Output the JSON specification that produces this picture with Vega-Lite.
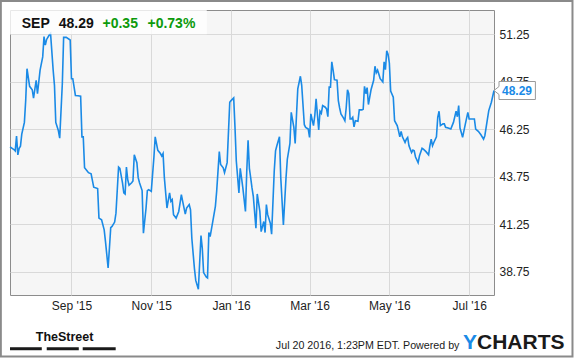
{
  "$schema": "https://vega.github.io/schema/vega-lite/v6.json",
  "width": 484,
  "height": 285,
  "autosize": {"type": "none"},
  "padding": {"left": 10, "top": 10, "right": 81, "bottom": 63},
  "background": "#ffffff",
  "config": {
    "font": "Liberation Sans",
    "view": {"fill": "#f6f6f6", "stroke": "#8c8c8c", "strokeWidth": 1}
  },
  "datasets": {
    "prices": [
      {"date": "2015-07-16", "price": 45.32}, {"date": "2015-07-19", "price": 45.18}, {"date": "2015-07-20", "price": 45.11},
      {"date": "2015-07-21", "price": 45.89}, {"date": "2015-07-22", "price": 44.90}, {"date": "2015-07-23", "price": 45.25},
      {"date": "2015-07-24", "price": 45.36}, {"date": "2015-07-25", "price": 45.99}, {"date": "2015-07-27", "price": 46.61},
      {"date": "2015-07-28", "price": 47.76}, {"date": "2015-07-29", "price": 49.44}, {"date": "2015-07-31", "price": 48.51},
      {"date": "2015-08-02", "price": 48.33}, {"date": "2015-08-03", "price": 47.89}, {"date": "2015-08-05", "price": 48.83},
      {"date": "2015-08-06", "price": 48.12}, {"date": "2015-08-08", "price": 49.36}, {"date": "2015-08-10", "price": 50.06},
      {"date": "2015-08-11", "price": 51.13}, {"date": "2015-08-12", "price": 50.68}, {"date": "2015-08-13", "price": 50.98},
      {"date": "2015-08-15", "price": 51.21}, {"date": "2015-08-16", "price": 51.30}, {"date": "2015-08-18", "price": 49.36},
      {"date": "2015-08-19", "price": 48.56}, {"date": "2015-08-20", "price": 46.61}, {"date": "2015-08-22", "price": 46.17},
      {"date": "2015-08-23", "price": 45.78}, {"date": "2015-08-25", "price": 48.65}, {"date": "2015-08-26", "price": 51.09},
      {"date": "2015-08-28", "price": 51.09}, {"date": "2015-08-31", "price": 50.95}, {"date": "2015-09-01", "price": 48.91},
      {"date": "2015-09-02", "price": 48.91}, {"date": "2015-09-04", "price": 48.03}, {"date": "2015-09-06", "price": 48.01},
      {"date": "2015-09-08", "price": 47.99}, {"date": "2015-09-09", "price": 45.85}, {"date": "2015-09-10", "price": 45.85},
      {"date": "2015-09-11", "price": 44.22}, {"date": "2015-09-13", "price": 44.05}, {"date": "2015-09-14", "price": 43.96},
      {"date": "2015-09-16", "price": 43.90}, {"date": "2015-09-18", "price": 43.20}, {"date": "2015-09-21", "price": 43.13},
      {"date": "2015-09-22", "price": 41.57}, {"date": "2015-09-24", "price": 41.48}, {"date": "2015-09-26", "price": 40.95},
      {"date": "2015-09-27", "price": 40.33}, {"date": "2015-09-29", "price": 38.95}, {"date": "2015-09-30", "price": 39.98},
      {"date": "2015-10-01", "price": 41.07}, {"date": "2015-10-02", "price": 41.13}, {"date": "2015-10-04", "price": 41.36},
      {"date": "2015-10-05", "price": 41.83}, {"date": "2015-10-07", "price": 44.26}, {"date": "2015-10-08", "price": 44.19},
      {"date": "2015-10-10", "price": 43.43}, {"date": "2015-10-11", "price": 42.90}, {"date": "2015-10-12", "price": 42.84},
      {"date": "2015-10-13", "price": 44.26}, {"date": "2015-10-14", "price": 43.60}, {"date": "2015-10-15", "price": 43.30},
      {"date": "2015-10-17", "price": 43.43}, {"date": "2015-10-18", "price": 43.52}, {"date": "2015-10-19", "price": 44.90},
      {"date": "2015-10-21", "price": 44.49}, {"date": "2015-10-22", "price": 43.70}, {"date": "2015-10-23", "price": 43.43},
      {"date": "2015-10-25", "price": 43.02}, {"date": "2015-10-26", "price": 40.77}, {"date": "2015-10-28", "price": 42.10},
      {"date": "2015-10-29", "price": 43.02}, {"date": "2015-10-30", "price": 43.07}, {"date": "2015-11-01", "price": 42.98},
      {"date": "2015-11-03", "price": 44.76}, {"date": "2015-11-04", "price": 45.85}, {"date": "2015-11-06", "price": 45.14},
      {"date": "2015-11-08", "price": 44.97}, {"date": "2015-11-09", "price": 44.84}, {"date": "2015-11-10", "price": 44.97},
      {"date": "2015-11-11", "price": 43.70}, {"date": "2015-11-13", "price": 42.10}, {"date": "2015-11-14", "price": 42.50},
      {"date": "2015-11-15", "price": 42.90}, {"date": "2015-11-16", "price": 42.45}, {"date": "2015-11-17", "price": 42.54},
      {"date": "2015-11-18", "price": 41.75}, {"date": "2015-11-20", "price": 41.57}, {"date": "2015-11-22", "price": 41.92},
      {"date": "2015-11-24", "price": 42.81}, {"date": "2015-11-25", "price": 42.45}, {"date": "2015-11-27", "price": 41.78},
      {"date": "2015-11-28", "price": 42.10}, {"date": "2015-11-30", "price": 42.28}, {"date": "2015-12-01", "price": 42.01},
      {"date": "2015-12-02", "price": 40.51}, {"date": "2015-12-04", "price": 38.91}, {"date": "2015-12-05", "price": 38.29},
      {"date": "2015-12-07", "price": 37.82}, {"date": "2015-12-09", "price": 40.65}, {"date": "2015-12-10", "price": 39.98},
      {"date": "2015-12-11", "price": 38.70}, {"date": "2015-12-13", "price": 38.47}, {"date": "2015-12-14", "price": 38.42},
      {"date": "2015-12-15", "price": 40.81}, {"date": "2015-12-16", "price": 40.60}, {"date": "2015-12-18", "price": 41.39},
      {"date": "2015-12-20", "price": 42.19}, {"date": "2015-12-21", "price": 42.99}, {"date": "2015-12-23", "price": 45.07},
      {"date": "2015-12-24", "price": 44.40}, {"date": "2015-12-26", "price": 44.22}, {"date": "2015-12-27", "price": 43.96},
      {"date": "2015-12-29", "price": 44.49}, {"date": "2015-12-31", "price": 47.67}, {"date": "2016-01-01", "price": 47.76},
      {"date": "2016-01-03", "price": 47.90}, {"date": "2016-01-04", "price": 46.35}, {"date": "2016-01-05", "price": 44.58},
      {"date": "2016-01-07", "price": 42.90}, {"date": "2016-01-08", "price": 44.19}, {"date": "2016-01-09", "price": 43.69},
      {"date": "2016-01-10", "price": 43.16}, {"date": "2016-01-12", "price": 41.92}, {"date": "2016-01-13", "price": 44.05},
      {"date": "2016-01-14", "price": 45.67}, {"date": "2016-01-15", "price": 44.19}, {"date": "2016-01-16", "price": 43.69},
      {"date": "2016-01-17", "price": 43.16}, {"date": "2016-01-18", "price": 42.72}, {"date": "2016-01-20", "price": 41.04},
      {"date": "2016-01-21", "price": 42.84}, {"date": "2016-01-23", "price": 41.92}, {"date": "2016-01-24", "price": 40.86},
      {"date": "2016-01-26", "price": 41.39}, {"date": "2016-01-27", "price": 40.81}, {"date": "2016-01-28", "price": 42.28},
      {"date": "2016-01-29", "price": 41.75}, {"date": "2016-01-31", "price": 41.30}, {"date": "2016-02-01", "price": 40.72},
      {"date": "2016-02-03", "price": 44.05}, {"date": "2016-02-04", "price": 45.11}, {"date": "2016-02-05", "price": 45.38},
      {"date": "2016-02-07", "price": 45.85}, {"date": "2016-02-08", "price": 43.69}, {"date": "2016-02-10", "price": 41.21},
      {"date": "2016-02-12", "price": 43.69}, {"date": "2016-02-13", "price": 44.67}, {"date": "2016-02-15", "price": 45.50},
      {"date": "2016-02-16", "price": 47.14}, {"date": "2016-02-18", "price": 46.35}, {"date": "2016-02-19", "price": 45.50},
      {"date": "2016-02-20", "price": 46.97}, {"date": "2016-02-21", "price": 48.38}, {"date": "2016-02-23", "price": 49.04},
      {"date": "2016-02-24", "price": 48.56}, {"date": "2016-02-26", "price": 46.49}, {"date": "2016-02-27", "price": 46.35},
      {"date": "2016-02-29", "price": 46.26}, {"date": "2016-03-01", "price": 45.82}, {"date": "2016-03-02", "price": 47.06},
      {"date": "2016-03-04", "price": 46.44}, {"date": "2016-03-05", "price": 46.97}, {"date": "2016-03-06", "price": 47.85},
      {"date": "2016-03-08", "price": 46.21}, {"date": "2016-03-09", "price": 47.20}, {"date": "2016-03-10", "price": 47.09},
      {"date": "2016-03-11", "price": 47.50}, {"date": "2016-03-13", "price": 47.41}, {"date": "2016-03-14", "price": 47.32},
      {"date": "2016-03-15", "price": 46.91}, {"date": "2016-03-16", "price": 48.47}, {"date": "2016-03-17", "price": 48.47},
      {"date": "2016-03-18", "price": 49.80}, {"date": "2016-03-19", "price": 49.36}, {"date": "2016-03-20", "price": 48.86},
      {"date": "2016-03-22", "price": 48.83}, {"date": "2016-03-23", "price": 47.76}, {"date": "2016-03-24", "price": 47.37},
      {"date": "2016-03-25", "price": 47.06}, {"date": "2016-03-27", "price": 46.84}, {"date": "2016-03-28", "price": 46.70},
      {"date": "2016-03-29", "price": 47.37}, {"date": "2016-03-30", "price": 48.33}, {"date": "2016-03-31", "price": 48.12},
      {"date": "2016-04-01", "price": 46.79}, {"date": "2016-04-02", "price": 46.79}, {"date": "2016-04-03", "price": 46.88},
      {"date": "2016-04-04", "price": 46.38}, {"date": "2016-04-05", "price": 46.70}, {"date": "2016-04-07", "price": 46.67},
      {"date": "2016-04-08", "price": 47.27}, {"date": "2016-04-10", "price": 47.27}, {"date": "2016-04-11", "price": 47.30},
      {"date": "2016-04-12", "price": 48.51}, {"date": "2016-04-13", "price": 48.12}, {"date": "2016-04-14", "price": 48.44},
      {"date": "2016-04-15", "price": 47.55}, {"date": "2016-04-16", "price": 47.94}, {"date": "2016-04-17", "price": 48.33},
      {"date": "2016-04-19", "price": 48.83}, {"date": "2016-04-20", "price": 49.57}, {"date": "2016-04-21", "price": 49.22},
      {"date": "2016-04-22", "price": 49.36}, {"date": "2016-04-23", "price": 49.15}, {"date": "2016-04-24", "price": 48.91},
      {"date": "2016-04-26", "price": 48.74}, {"date": "2016-04-27", "price": 49.80}, {"date": "2016-04-28", "price": 49.39},
      {"date": "2016-04-29", "price": 50.38}, {"date": "2016-04-30", "price": 50.20}, {"date": "2016-05-01", "price": 49.74},
      {"date": "2016-05-02", "price": 48.26}, {"date": "2016-05-04", "price": 47.94}, {"date": "2016-05-05", "price": 46.70},
      {"date": "2016-05-07", "price": 46.44}, {"date": "2016-05-08", "price": 46.17}, {"date": "2016-05-09", "price": 45.85},
      {"date": "2016-05-10", "price": 46.14}, {"date": "2016-05-11", "price": 45.85}, {"date": "2016-05-13", "price": 45.55},
      {"date": "2016-05-14", "price": 45.73}, {"date": "2016-05-15", "price": 45.82}, {"date": "2016-05-16", "price": 45.38},
      {"date": "2016-05-18", "price": 45.02}, {"date": "2016-05-19", "price": 45.15}, {"date": "2016-05-20", "price": 45.11},
      {"date": "2016-05-21", "price": 44.79}, {"date": "2016-05-23", "price": 44.49}, {"date": "2016-05-24", "price": 44.84},
      {"date": "2016-05-26", "price": 45.25}, {"date": "2016-05-27", "price": 45.20}, {"date": "2016-05-29", "price": 45.07},
      {"date": "2016-05-31", "price": 44.90}, {"date": "2016-06-01", "price": 45.38}, {"date": "2016-06-02", "price": 45.73},
      {"date": "2016-06-03", "price": 45.38}, {"date": "2016-06-04", "price": 45.55}, {"date": "2016-06-06", "price": 45.85},
      {"date": "2016-06-07", "price": 46.88}, {"date": "2016-06-08", "price": 47.20}, {"date": "2016-06-09", "price": 46.44},
      {"date": "2016-06-11", "price": 46.53}, {"date": "2016-06-12", "price": 46.53}, {"date": "2016-06-13", "price": 46.35},
      {"date": "2016-06-15", "price": 46.31}, {"date": "2016-06-17", "price": 46.26}, {"date": "2016-06-18", "price": 46.44},
      {"date": "2016-06-19", "price": 46.61}, {"date": "2016-06-21", "price": 47.20}, {"date": "2016-06-22", "price": 46.91},
      {"date": "2016-06-23", "price": 47.50}, {"date": "2016-06-24", "price": 46.31}, {"date": "2016-06-25", "price": 46.08},
      {"date": "2016-06-26", "price": 45.82}, {"date": "2016-06-28", "price": 46.49}, {"date": "2016-06-30", "price": 47.14},
      {"date": "2016-07-01", "price": 46.79}, {"date": "2016-07-03", "price": 46.79}, {"date": "2016-07-05", "price": 46.79},
      {"date": "2016-07-06", "price": 46.26}, {"date": "2016-07-08", "price": 46.14}, {"date": "2016-07-10", "price": 45.96},
      {"date": "2016-07-12", "price": 45.73}, {"date": "2016-07-13", "price": 45.91}, {"date": "2016-07-15", "price": 46.79},
      {"date": "2016-07-16", "price": 47.23}, {"date": "2016-07-18", "price": 47.67}, {"date": "2016-07-20", "price": 48.29}
    ]
  },
  "layer": [
    {
      "data": {"values": [{}]},
      "mark": {"type": "rect", "fill": "none", "stroke": "#8a8a8a", "strokeWidth": 2, "clip": false},
      "encoding": {
        "x": {"datum": {"year": 2015, "month": 7, "date": 9, "utc": true}, "type": "temporal"},
        "x2": {"datum": {"year": 2016, "month": 9, "date": 18, "utc": true}},
        "y": {"datum": 53.01, "type": "quantitative"},
        "y2": {"datum": 34.28}
      }
    },
    {
      "data": {"name": "prices"},
      "mark": {"type": "line", "color": "#1a8ae6", "strokeWidth": 1.6, "interpolate": "linear"},
      "encoding": {
        "x": {
          "field": "date", "type": "temporal",
          "scale": {"type": "utc", "nice": false, "domain": [{"year": 2015, "month": 7, "date": 16, "utc": true}, {"year": 2016, "month": 7, "date": 20, "utc": true}]},
          "axis": {
            "title": null, "format": "%b '%y", "domain": false, "ticks": false,
            "values": [
              {"year": 2015, "month": 9, "date": 1, "utc": true}, {"year": 2015, "month": 11, "date": 1, "utc": true},
              {"year": 2016, "month": 1, "date": 1, "utc": true}, {"year": 2016, "month": 3, "date": 1, "utc": true},
              {"year": 2016, "month": 5, "date": 1, "utc": true}, {"year": 2016, "month": 7, "date": 1, "utc": true}
            ],
            "grid": true, "gridColor": "#d9d9d9", "gridWidth": 1,
            "labelFontSize": 12, "labelColor": "#222222", "labelPadding": 5, "labelFont": "Liberation Sans"
          }
        },
        "y": {
          "field": "price", "type": "quantitative",
          "scale": {"domain": [37.52, 52.53], "nice": false, "zero": false},
          "axis": {
            "title": null, "orient": "right", "format": ".2f", "domain": false, "ticks": false,
            "values": [38.75, 41.25, 43.75, 46.25, 48.75, 51.25],
            "grid": true, "gridColor": "#d9d9d9", "gridWidth": 1,
            "labelFontSize": 12, "labelColor": "#222222", "labelPadding": 5, "labelFont": "Liberation Sans"
          }
        }
      }
    },
    {
      "data": {"values": [{}]},
      "mark": {"type": "rect", "fill": "#ffffff", "fillOpacity": 0.8},
      "encoding": {
        "x": {"datum": {"year": 2015, "month": 7, "date": 16, "utc": true}, "type": "temporal"},
        "x2": {"datum": {"year": 2015, "month": 12, "date": 13, "hours": 10, "utc": true}},
        "y": {"datum": 52.53, "type": "quantitative"},
        "y2": {"datum": 51.25}
      }
    },
    {
      "data": {"values": [{}]},
      "mark": {"type": "text", "text": "SEP", "align": "left", "baseline": "alphabetic", "fontSize": 14, "fontWeight": "bold", "fill": "#111111"},
      "encoding": {
        "x": {"datum": {"year": 2015, "month": 7, "date": 25, "utc": true}, "type": "temporal"},
        "y": {"datum": 51.57, "type": "quantitative"}
      }
    },
    {
      "data": {"values": [{}]},
      "mark": {"type": "text", "text": "48.29", "align": "left", "baseline": "alphabetic", "fontSize": 14, "fontWeight": "bold", "fill": "#111111"},
      "encoding": {
        "x": {"datum": {"year": 2015, "month": 8, "date": 22, "hours": 7, "utc": true}, "type": "temporal"},
        "y": {"datum": 51.57, "type": "quantitative"}
      }
    },
    {
      "data": {"values": [{}]},
      "mark": {"type": "text", "text": "+0.35", "align": "left", "baseline": "alphabetic", "fontSize": 14, "fontWeight": "bold", "fill": "#0c9a0c"},
      "encoding": {
        "x": {"datum": {"year": 2015, "month": 9, "date": 24, "hours": 17, "utc": true}, "type": "temporal"},
        "y": {"datum": 51.57, "type": "quantitative"}
      }
    },
    {
      "data": {"values": [{}]},
      "mark": {"type": "text", "text": "+0.73%", "align": "left", "baseline": "alphabetic", "fontSize": 14, "fontWeight": "bold", "fill": "#0c9a0c"},
      "encoding": {
        "x": {"datum": {"year": 2015, "month": 10, "date": 29, "hours": 2, "utc": true}, "type": "temporal"},
        "y": {"datum": 51.57, "type": "quantitative"}
      }
    },
    {
      "data": {"values": [{}]},
      "mark": {"type": "point", "shape": "M0,0L0.25,-0.2L0.25,-0.45L2.07,-0.45L2.07,0.45L0.25,0.45L0.25,0.2Z", "size": 1600, "filled": true, "fill": "#ffffff", "stroke": "#9a9a9a", "strokeWidth": 1, "opacity": 1, "clip": false},
      "encoding": {
        "x": {"datum": {"year": 2016, "month": 7, "date": 20, "utc": true}, "type": "temporal"},
        "y": {"datum": 48.29, "type": "quantitative"}
      }
    },
    {
      "data": {"values": [{}]},
      "mark": {"type": "text", "text": "48.29", "align": "left", "baseline": "middle", "dx": 8, "fontSize": 12, "fontWeight": "bold", "fill": "#1a8ae6"},
      "encoding": {
        "x": {"datum": {"year": 2016, "month": 7, "date": 20, "utc": true}, "type": "temporal"},
        "y": {"datum": 48.29, "type": "quantitative"}
      }
    },
    {
      "data": {"values": [{}]},
      "mark": {"type": "text", "text": "TheStreet", "align": "left", "baseline": "alphabetic", "fontSize": 12.5, "fontWeight": "bold", "font": "Liberation Sans", "fill": "#111111"},
      "encoding": {
        "x": {"datum": {"year": 2015, "month": 8, "date": 4, "hours": 17, "utc": true}, "type": "temporal"},
        "y": {"datum": 35.09, "type": "quantitative"}
      }
    },
    {
      "data": {"values": [{}]},
      "mark": {"type": "rule", "stroke": "#1a1a1a", "strokeWidth": 3},
      "encoding": {
        "x": {"datum": {"year": 2015, "month": 7, "date": 16, "utc": true}, "type": "temporal"},
        "x2": {"datum": {"year": 2015, "month": 8, "date": 9, "hours": 7, "utc": true}},
        "y": {"datum": 34.69, "type": "quantitative"}
      }
    },
    {
      "data": {"values": [{}]},
      "mark": {"type": "rule", "stroke": "#1a1a1a", "strokeWidth": 3},
      "encoding": {
        "x": {"datum": {"year": 2015, "month": 8, "date": 13, "hours": 2, "utc": true}, "type": "temporal"},
        "x2": {"datum": {"year": 2015, "month": 9, "date": 6, "hours": 14, "utc": true}},
        "y": {"datum": 34.69, "type": "quantitative"}
      }
    },
    {
      "data": {"values": [{}]},
      "mark": {"type": "rule", "stroke": "#1a1a1a", "strokeWidth": 3},
      "encoding": {
        "x": {"datum": {"year": 2015, "month": 9, "date": 9, "hours": 14, "utc": true}, "type": "temporal"},
        "x2": {"datum": {"year": 2015, "month": 10, "date": 4, "hours": 19, "utc": true}},
        "y": {"datum": 34.69, "type": "quantitative"}
      }
    },
    {
      "data": {"values": [{}]},
      "mark": {"type": "text", "text": "Jul 20 2016, 1:23PM EDT.  Powered by", "align": "right", "baseline": "alphabetic", "fontSize": 10.7, "fill": "#1a1a1a"},
      "encoding": {
        "x": {"datum": {"year": 2016, "month": 6, "date": 23, "hours": 14, "utc": true}, "type": "temporal"},
        "y": {"datum": 34.70, "type": "quantitative"}
      }
    },
    {
      "data": {"values": [{}]},
      "mark": {"type": "text", "text": "Y", "align": "left", "baseline": "alphabetic", "fontSize": 21, "fontWeight": "bold", "fill": "#1a8ae6"},
      "encoding": {
        "x": {"datum": {"year": 2016, "month": 6, "date": 26, "hours": 5, "utc": true}, "type": "temporal"},
        "y": {"datum": 34.65, "type": "quantitative"}
      }
    },
    {
      "data": {"values": [{}]},
      "mark": {"type": "text", "text": "CHARTS", "align": "left", "baseline": "alphabetic", "fontSize": 21, "fontWeight": "bold", "fill": "#1a1a1a"},
      "encoding": {
        "x": {"datum": {"year": 2016, "month": 7, "date": 7, "utc": true}, "type": "temporal"},
        "y": {"datum": 34.65, "type": "quantitative"}
      }
    }
  ]
}
